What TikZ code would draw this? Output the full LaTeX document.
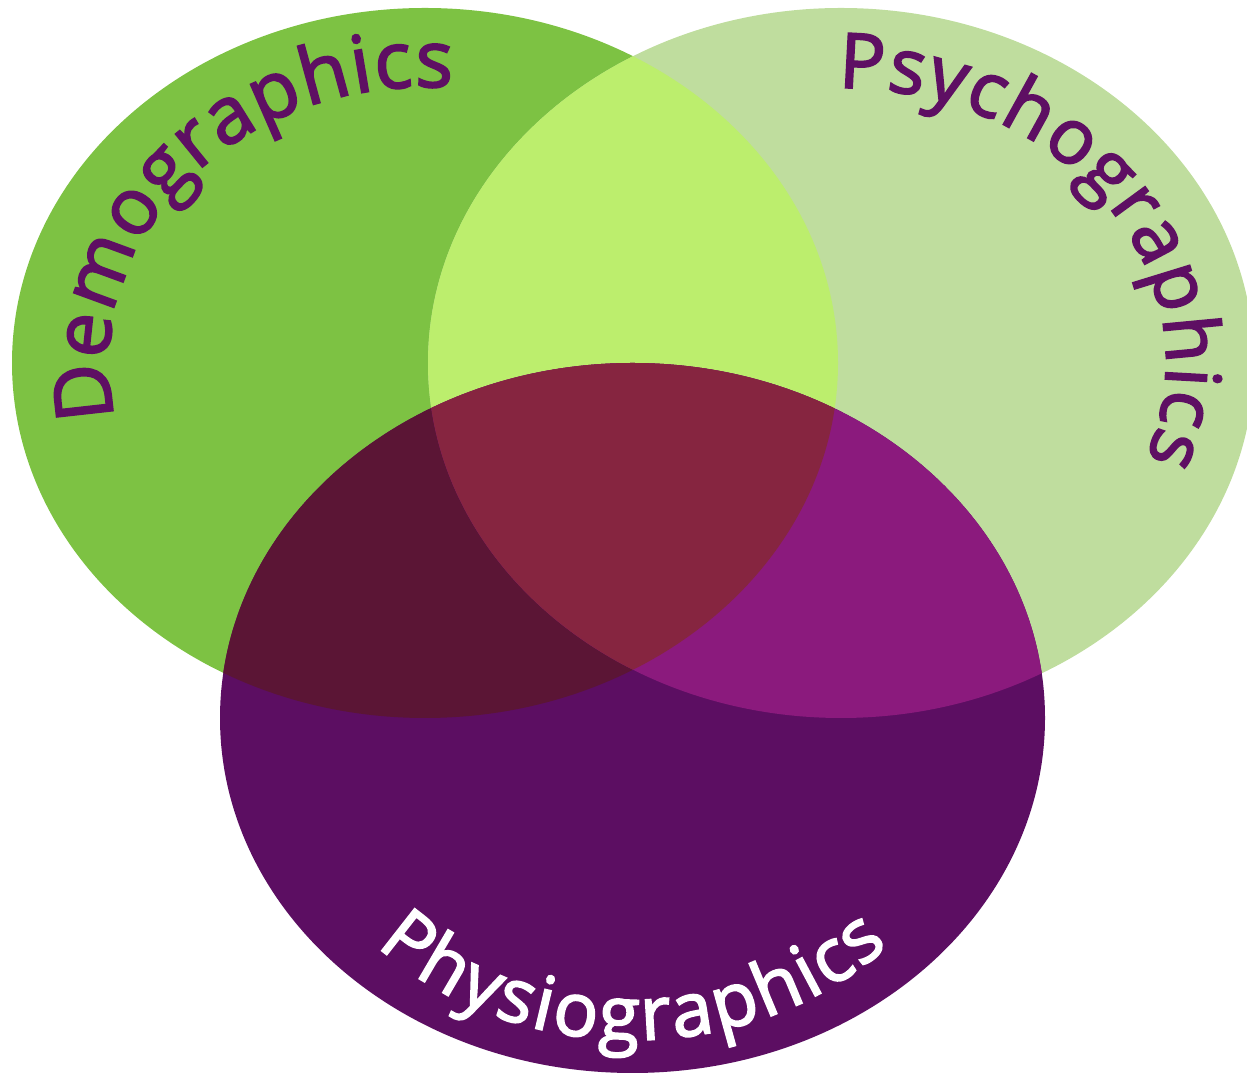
\documentclass[tikz,border=0pt]{standalone}
\usepackage{fontspec}
\newfontfamily\labelface{Open Sans}[FakeBold=2.4]
\usetikzlibrary{decorations.text}

\definecolor{demo}{HTML}{7DC243}
\definecolor{psycho}{HTML}{BFDD9E}
\definecolor{physio}{HTML}{5C0E62}
\definecolor{demopsycho}{HTML}{BCEE6D}
\definecolor{demophysio}{HTML}{5B1535}
\definecolor{psychophysio}{HTML}{8B1A7D}
\definecolor{allthree}{HTML}{862540}
\definecolor{ink}{HTML}{5E0F63}

\newcommand\demofont{\labelface\fontsize{45}{50}\selectfont}
\newcommand\psyfont{\labelface\fontsize{43.5}{50}\selectfont}
\newcommand\phyfont{\labelface\fontsize{42.5}{50}\selectfont}

% the three sets
\def\setDemo{(425,711) ellipse [x radius=413, y radius=355]}
\def\setPsycho{(841,711) ellipse [x radius=413, y radius=355]}
\def\setPhysio{(632.5,356) ellipse [x radius=412.5, y radius=355]}

\tikzset{
  arclabel/.style n args={3}{
    decorate,
    decoration={text along path, text={|#1|#3}, text color=#2,
                text align={fit to path}}
  }
}

\begin{document}
\begin{tikzpicture}[x=0.02cm,y=0.02cm]
\useasboundingbox (0,0) rectangle (1247,1074);
\clip (0,0) rectangle (1247,1074);

% single regions
\fill[demo] \setDemo;
\fill[psycho] \setPsycho;
\fill[physio] \setPhysio;

% pairwise overlaps
\begin{scope}
  \clip \setDemo;
  \fill[demopsycho] \setPsycho;
\end{scope}
\begin{scope}
  \clip \setDemo;
  \fill[demophysio] \setPhysio;
\end{scope}
\begin{scope}
  \clip \setPsycho;
  \fill[psychophysio] \setPhysio;
\end{scope}

% centre
\begin{scope}
  \clip \setDemo;
  \clip \setPsycho;
  \fill[allthree] \setPhysio;
\end{scope}

% curved labels
\path[arclabel={\demofont}{ink}{Demographics}]
  (425,711) ++(191.5:316 and 276)
  arc[start angle=191.5, end angle=85, x radius=316, y radius=276];

\path[arclabel={\psyfont}{ink}{Psychographics}]
  (841,711) ++(90.5:325 and 275)
  arc[start angle=90.5, end angle=-20.4, x radius=325, y radius=275];

\path[arclabel={\phyfont}{white}{Physiographics}]
  (632.5,356) ++(225:362 and 322)
  arc[start angle=225, end angle=315, x radius=362, y radius=322];
\end{tikzpicture}
\end{document}
